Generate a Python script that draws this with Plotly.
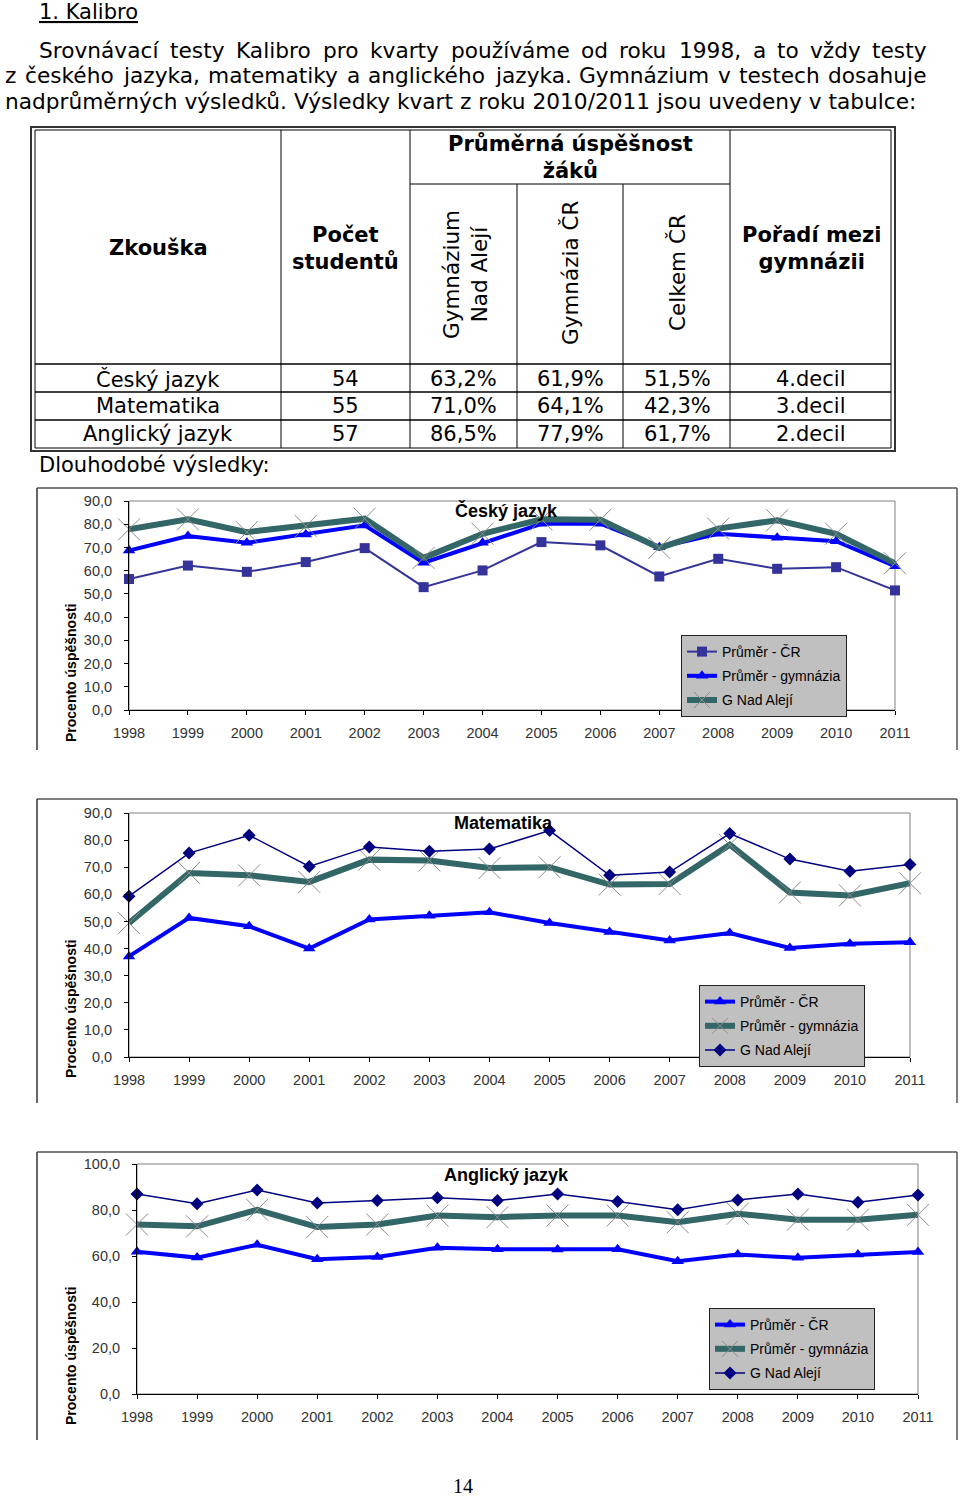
import plotly.graph_objects as go

# ---------------- data ----------------
years = [1998, 1999, 2000, 2001, 2002, 2003, 2004, 2005, 2006, 2007, 2008, 2009, 2010, 2011]
series_names = ["Průměr - ČR", "Průměr - gymnázia", "G Nad Alejí"]

cj_cr = [56.4, 62.2, 59.5, 63.7, 69.7, 52.9, 60.1, 72.3, 70.9, 57.5, 65.1, 60.8, 61.5, 51.5]
cj_gym = [68.7, 74.9, 72.0, 75.6, 79.5, 63.4, 72.0, 80.2, 80.2, 70.1, 75.9, 74.2, 72.7, 61.9]
cj_gna = [77.8, 82.1, 76.6, 79.2, 82.4, 65.5, 75.9, 82.1, 81.9, 69.8, 78.1, 81.7, 75.9, 63.2]

mat_cr = [37.1, 51.3, 48.2, 40.0, 50.7, 52.1, 53.4, 49.4, 46.1, 43.0, 45.7, 40.2, 41.8, 42.3]
mat_gym = [49.4, 67.9, 67.0, 64.6, 72.8, 72.5, 69.7, 70.0, 63.6, 63.8, 78.3, 60.7, 59.6, 64.1]
mat_gna = [59.3, 75.2, 81.8, 70.3, 77.5, 75.9, 76.7, 83.5, 67.0, 68.2, 82.4, 73.0, 68.5, 71.0]

aj_cr = [61.8, 59.3, 64.9, 58.6, 59.6, 63.6, 62.9, 62.8, 62.9, 57.7, 60.6, 59.2, 60.6, 61.7]
aj_gym = [73.7, 72.9, 80.1, 72.6, 73.7, 77.6, 76.9, 77.6, 77.6, 74.7, 78.4, 75.8, 75.8, 77.9]
aj_gna = [87.0, 82.7, 88.7, 83.0, 84.1, 85.3, 84.1, 87.0, 83.7, 80.1, 84.4, 87.0, 83.4, 86.5]

# table
tbl_subjects = ["Český jazyk", "Matematika", "Anglický jazyk"]
tbl_students = [54, 55, 57]
tbl_gna = ["63,2%", "71,0%", "86,5%"]
tbl_gym = ["61,9%", "64,1%", "77,9%"]
tbl_cr = ["51,5%", "42,3%", "61,7%"]
tbl_rank = ["4.decil", "3.decil", "2.decil"]

heading = "1. Kalibro"
para_lines = [
    "Srovnávací testy Kalibro pro kvarty používáme od roku 1998, a to vždy testy",
    "z českého jazyka, matematiky a anglického jazyka. Gymnázium v testech dosahuje",
    "nadprůměrných výsledků. Výsledky kvart z roku 2010/2011 jsou uvedeny v tabulce:",
]

# ---------------- helpers ----------------
W, H = 960, 1496


def fx(x):
    return x / W


def fy(y):
    return 1 - y / H


DOC_FONT = "DejaVu Sans, Verdana, sans-serif"
CH_FONT = "Liberation Sans, Arial, sans-serif"
PARA_SIZE = 21.7

fig = go.Figure()
annotations = []
shapes = []


def text(x, y, s, size=21, bold=False, xanchor="left", angle=0, family=DOC_FONT, color="black", **kw):
    if bold:
        s = "<b>" + s + "</b>"
    annotations.append(dict(
        x=fx(x), y=fy(y), xref="paper", yref="paper", text=s, showarrow=False,
        xanchor=xanchor, yanchor="middle", textangle=angle,
        font=dict(family=family, size=size, color=color, **kw)))


def line(x0, y0, x1, y1, color="black", width=1):
    shapes.append(dict(type="line", xref="paper", yref="paper",
                       x0=fx(x0), y0=fy(y0), x1=fx(x1), y1=fy(y1),
                       line=dict(color=color, width=width)))


def rect(x0, y0, x1, y1, color="black", width=1, fill=None, layer="above"):
    d = dict(type="rect", xref="paper", yref="paper",
             x0=fx(x0), y0=fy(y0), x1=fx(x1), y1=fy(y1),
             line=dict(color=color, width=width), layer=layer)
    if fill:
        d["fillcolor"] = fill
    shapes.append(d)


# approximate DejaVu Sans advance widths (em) for simple justification
_CW = {' ': .318, ',': .318, '.': .318, '/': .337, ':': .337, '-': .361,
       'a': .613, 'b': .635, 'c': .550, 'd': .635, 'e': .615, 'f': .352, 'g': .635,
       'h': .634, 'i': .278, 'j': .278, 'k': .579, 'l': .278, 'm': .974, 'n': .634,
       'o': .612, 'p': .635, 'r': .411, 's': .521, 't': .392, 'u': .634, 'v': .592,
       'w': .818, 'y': .592, 'z': .525, 'S': .635, 'K': .656, 'G': .775, 'V': .684}
_BASE = {'á': 'a', 'é': 'e', 'ě': 'e', 'í': 'i', 'ý': 'y', 'ů': 'u', 'ú': 'u',
         'ž': 'z', 'č': 'c', 'ř': 'r', 'š': 's'}


def word_w(w, size):
    tot = 0
    for ch in w:
        ch = _BASE.get(ch, ch)
        tot += _CW.get(ch, .636 if ch.isdigit() else .6)
    return tot * size


def justified(y, s, x0, x1, size):
    words = s.split(" ")
    widths = [word_w(w, size) for w in words]
    gap = (x1 - x0 - sum(widths)) / (len(words) - 1)
    x = x0
    for w, ww in zip(words, widths):
        text(x, y, w, size=size)
        x += ww + gap


# ---------------- text block ----------------
text(37, 12, heading, size=21, lineposition="under")
justified(50, para_lines[0], 37, 925, PARA_SIZE)
justified(76, para_lines[1], 3, 925, PARA_SIZE)
text(3, 102, para_lines[2], size=PARA_SIZE)

# ---------------- table ----------------
rect(31, 127, 895, 451, color="#333", width=2)
rect(35, 130, 891, 448, color="black", width=1)
for xv in (281, 410, 730):
    line(xv, 130, xv, 448)
for xv in (517, 623):
    line(xv, 184, xv, 448)
line(410, 184, 730, 184)
line(35, 364, 891, 364, width=1.5)
line(35, 392, 891, 392, width=1.5)
line(35, 420, 891, 420, width=1.5)

text(158, 248, "Zkouška", size=21, bold=True, xanchor="center")
text(345, 248, "Počet<br>studentů", size=21, bold=True, xanchor="center")
text(570, 158, "Průměrná úspěšnost<br>žáků", size=21, bold=True, xanchor="center")
text(811, 248, "Pořadí mezi<br>gymnázii", size=21, bold=True, xanchor="center")
text(465, 275, "Gymnázium<br>Nad Alejí", size=21.5, angle=-90, xanchor="center")
text(570, 273, "Gymnázia ČR", size=21.5, angle=-90, xanchor="center")
text(677, 273, "Celkem ČR", size=21.5, angle=-90, xanchor="center")

row_y = [379, 406, 434]
for i in range(3):
    text(158, row_y[i], tbl_subjects[i], size=21, xanchor="center")
    text(345, row_y[i], str(tbl_students[i]), size=21, xanchor="center")
    text(463, row_y[i], tbl_gna[i], size=21, xanchor="center")
    text(570, row_y[i], tbl_gym[i], size=21, xanchor="center")
    text(677, row_y[i], tbl_cr[i], size=21, xanchor="center")
    text(811, row_y[i], tbl_rank[i], size=21, xanchor="center")

text(37, 465, "Dlouhodobé výsledky:", size=21)

# ---------------- charts ----------------
STY_CR1 = dict(line=dict(color="#333399", width=2),
               marker=dict(symbol="square", size=10, color="#333399"))
STY_BLUE = dict(line=dict(color="#0000ff", width=4),
                marker=dict(symbol="triangle-up", size=11, color="#0000ff"))
STY_TEAL = dict(line=dict(color="#336666", width=6),
                marker=dict(symbol="x-thin", size=22, color="#8c8c8c",
                            line=dict(color="#8c8c8c", width=1)))
STY_NAVY = dict(line=dict(color="#000080", width=1.5),
                marker=dict(symbol="diamond", size=10, color="#000080"))

charts = [
    dict(title="Český jazyk", data=[cj_cr, cj_gym, cj_gna], styles=[STY_CR1, STY_BLUE, STY_TEAL],
         box=(129, 895, 501, 710), frame=(37, 957, 488, 750), ymax=90, dtick=10,
         title_xy=(506, 511), ytitle_y=673, legend_xy=(681, 635)),
    dict(title="Matematika", data=[mat_cr, mat_gym, mat_gna], styles=[STY_BLUE, STY_TEAL, STY_NAVY],
         box=(129, 910, 813, 1057), frame=(37, 957, 799, 1103), ymax=90, dtick=10,
         title_xy=(503, 823), ytitle_y=1009, legend_xy=(699, 985)),
    dict(title="Anglický jazyk", data=[aj_cr, aj_gym, aj_gna], styles=[STY_BLUE, STY_TEAL, STY_NAVY],
         box=(137, 918, 1164, 1394), frame=(37, 957, 1152, 1440), ymax=100, dtick=20,
         title_xy=(507, 1175), ytitle_y=1356, legend_xy=(709, 1308)),
]

layout_axes = {}
for ci, ch in enumerate(charts):
    n = ci + 1
    sx = "" if n == 1 else str(n)
    legname = "legend" if n == 1 else f"legend{n}"
    l, r, t, b = ch["box"]
    for si, (vals, sty) in enumerate(zip(ch["data"], ch["styles"])):
        fig.add_trace(go.Scatter(
            x=years, y=vals, name=series_names[si], mode="lines+markers",
            line=sty["line"], marker=sty["marker"], cliponaxis=False,
            xaxis="x" + sx, yaxis="y" + sx, legend=legname,
            legendgroup=f"c{n}s{si}", hoverinfo="skip"))
    layout_axes["xaxis" + sx] = dict(
        domain=[fx(l), fx(r)], anchor="y" + sx, range=[1998, 2011], automargin=False,
        tickmode="array", tickvals=years, ticktext=[str(v) for v in years],
        ticks="outside", ticklen=4, tickcolor="black", showline=True, linecolor="black",
        linewidth=1, showgrid=False, zeroline=False, ticklabelstandoff=6,
        tickfont=dict(family=CH_FONT, size=14.5, color="#333"), fixedrange=True)
    layout_axes["yaxis" + sx] = dict(
        domain=[fy(b), fy(t)], anchor="x" + sx, range=[0, ch["ymax"]], dtick=ch["dtick"],
        automargin=False, tickformat=".1f", ticks="outside", ticklen=4, tickcolor="black",
        showline=True, linecolor="black", linewidth=1, showgrid=False, zeroline=False,
        ticklabelstandoff=9, tickfont=dict(family=CH_FONT, size=14.5, color="#333"),
        fixedrange=True)
    lx, ly = ch["legend_xy"]
    layout_axes[legname] = dict(
        x=fx(lx), y=fy(ly), xanchor="left", yanchor="top", bgcolor="#c0c0c0",
        bordercolor="#222", borderwidth=1, traceorder="grouped", tracegroupgap=3,
        font=dict(family=CH_FONT, size=14, color="black"), itemwidth=30)
    # plot area border (gray)
    rect(l, t, r, b, color="#808080", width=1, layer="below")
    # chart frame
    fl, fr, ft, fb = ch["frame"]
    line(fl, ft, fr, ft, color="#555", width=1.5)
    line(fl, ft, fl, fb, color="#333", width=1.5)
    line(fr, ft, fr, fb, color="#555", width=1.5)
    # titles
    tx, ty = ch["title_xy"]
    text(tx, ty, ch["title"], size=18, bold=True, xanchor="center", family=CH_FONT)
    text(71, ch["ytitle_y"], "Procento úspěšnosti", size=14, bold=True, xanchor="center",
         angle=-90, family=CH_FONT)

# page number
text(463, 1486, "14", size=20, xanchor="center", family="Liberation Serif, Times New Roman, serif")

fig.update_layout(
    width=W, height=H, margin=dict(l=0, r=0, t=0, b=0, autoexpand=False),
    paper_bgcolor="white", plot_bgcolor="white", separators=", ",
    showlegend=True, annotations=annotations, shapes=shapes, **layout_axes)

fig.write_html("out.html", config={"displayModeBar": False},
               post_script="document.body.style.margin='0px';document.body.style.overflow='hidden';")
